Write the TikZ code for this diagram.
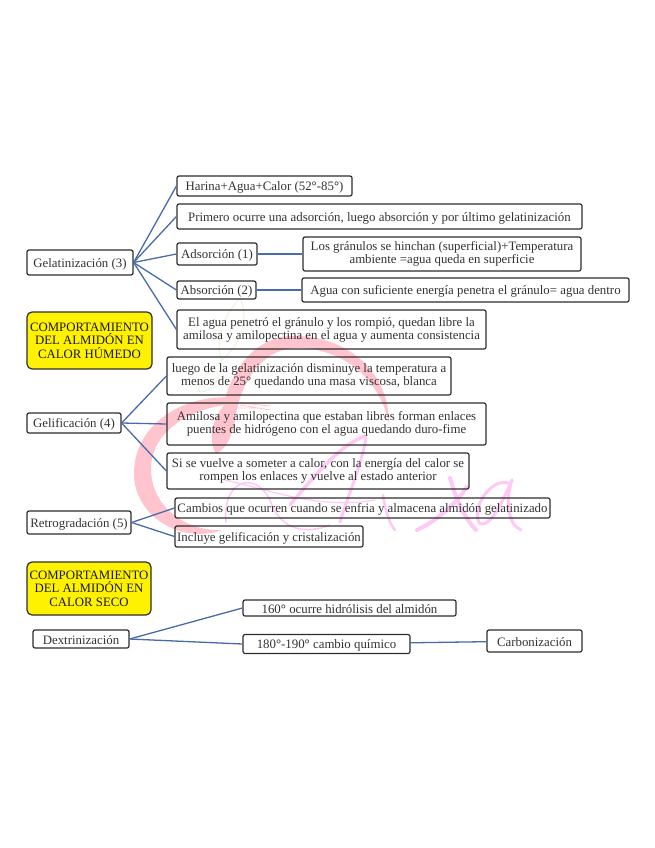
\documentclass[tikz,border=0pt]{standalone}
\usepackage{fontspec}
\setmainfont{Liberation Serif}
\definecolor{linea}{RGB}{72,108,170}
\definecolor{borde}{RGB}{45,45,45}
\definecolor{rosa}{RGB}{255,196,206}
\definecolor{lila}{RGB}{255,200,245}
\definecolor{hoja}{RGB}{232,246,220}
\newcommand{\grado}{\textbf{°}}
\tikzset{
  caja/.style={draw=borde,line width=1.2pt,rounded corners=2pt,inner sep=0pt,align=center,
    text=black!80,font=\fontsize{12.85}{13}\selectfont,execute at begin node={\rule{0pt}{12pt}}},
  cajados/.style={caja,execute at begin node={\vspace*{3pt}}},
  cajaseca/.style={caja,execute at begin node={}},
  titulo/.style={cajaseca,fill=yellow,rounded corners=5pt,text=black!90,font=\fontsize{12.8}{13.4}\selectfont},
  rama/.style={draw=linea,line width=1.3pt},
  firma/.style={draw=lila,line cap=round,line join=round}
}
\begin{document}
\begin{tikzpicture}[x=1pt,y=-1pt]
        \useasboundingbox (0,0) rectangle (655,848);
        \fill[white] (0,0) rectangle (655,848);

        % Watermark: leaf
        \draw[hoja,line width=1pt] (240,298) .. controls (220,320) and (215,345) .. (222,360)
            .. controls (240,345) and (250,320) .. (240,298);
        \draw[hoja,line width=1pt] (222,360) .. controls (205,375) and (195,385) .. (200,392)
            .. controls (212,392) and (222,378) .. (222,360);

        % Watermark: big C
        \fill[rosa] (238,398) .. controls (190,392) and (134,420) .. (134,474)
            .. controls (134,515) and (180,545) .. (222,530)
            .. controls (190,532) and (152,510) .. (151,470)
            .. controls (150,430) and (195,405) .. (238,404) -- cycle;
        \fill[rosa] (216,454) .. controls (208,440) and (212,420) .. (224,405)
            .. controls (228,380) and (250,335) .. (295,336)
            .. controls (345,336) and (390,370) .. (389,425)
            .. controls (382,385) and (350,350) .. (300,348)
            .. controls (262,346) and (240,385) .. (236,415)
            .. controls (232,440) and (224,450) .. (216,454) -- cycle;
        % Watermark: fork
        \draw[rosa,line width=0.8pt] (232,408) -- (262,408) (270,406) -- (240,403) (270,410) -- (240,405);

        % Watermark: script name
        \draw[firma,line width=1.5pt] (226,522) .. controls (222,480) and (255,470) .. (270,500)
            .. controls (280,530) and (305,535) .. (330,525);
        \draw[firma,line width=3.5pt] (290,505) .. controls (315,475) and (340,445) .. (365,436);
        \draw[firma,line width=3pt] (366,438) .. controls (360,470) and (348,495) .. (340,522);
        \draw[firma,line width=1.2pt] (225,480) .. controls (270,490) and (320,510) .. (375,500);
        \draw[firma,line width=2.5pt] (383,495) .. controls (385,510) and (390,525) .. (395,530);
        \draw[firma,line width=4pt] (417,530) .. controls (435,522) and (455,505) .. (467,487);
        \draw[firma,line width=4pt] (450,478) .. controls (455,495) and (462,515) .. (476,530);
        \draw[firma,line width=3pt] (508,483) .. controls (490,478) and (470,510) .. (480,524)
            .. controls (492,526) and (502,502) .. (512,480);
        \draw[firma,line width=3pt] (512,480) .. controls (505,500) and (508,525) .. (521,530);

        % Nodes of the first part
        \node[caja,minimum width=106pt,minimum height=25pt] (gelatinizacion) at (80,262.5) {Gelatinización (3)};
        \node[caja,minimum width=175pt,minimum height=20pt] (harina) at (264.5,186) {Harina+Agua+Calor (52\grado-85\grado)};
        \node[caja,minimum width=405pt,minimum height=25pt] (primero) at (379.5,216.5) {Primero ocurre una adsorción, luego absorción y por último gelatinización};
        \node[caja,minimum width=80pt,minimum height=22pt] (adsorcion) at (217,254) {Adsorción (1)};
        \node[cajados,minimum width=278pt,minimum height=34pt] (granulos) at (442,254) {Los gránulos se hinchan (superficial)+Temperatura\\ambiente =agua queda en superficie};
        \node[caja,minimum width=79pt,minimum height=18pt] (absorcion) at (216.5,290) {Absorción (2)};
        \node[caja,minimum width=327pt,minimum height=24pt] (dentro) at (465.5,290) {Agua con suficiente energía penetra el gránulo= agua dentro};
        \node[cajados,minimum width=309pt,minimum height=39pt] (rompio) at (331.5,329.5) {El agua penetró el gránulo y los rompió, quedan libre la\\amilosa y amilopectina en el agua y aumenta consistencia};
        \node[titulo,minimum width=125pt,minimum height=57pt] (humedo) at (89.5,340.5) {COMPORTAMIENTO\\DEL ALMIDÓN EN\\CALOR HÚMEDO};

        % Nodes of the second part
        \node[caja,minimum width=94pt,minimum height=20pt] (gelificacion) at (74,423) {Gelificación (4)};
        \node[cajados,minimum width=284pt,minimum height=38pt] (viscosa) at (309,376) {luego de la gelatinización disminuye la temperatura a\\menos de 25\grado{} quedando una masa viscosa, blanca};
        \node[cajados,minimum width=319pt,minimum height=42pt] (puentes) at (326.5,424) {Amilosa y amilopectina que estaban libres forman enlaces\\puentes de hidrógeno con el agua quedando duro-fime};
        \node[cajados,minimum width=302pt,minimum height=36pt] (enlaces) at (318,471) {Si se vuelve a someter a calor, con la energía del calor se\\rompen los enlaces y vuelve al estado anterior};
        \node[caja,minimum width=104pt,minimum height=23pt] (retro) at (79,522.5) {Retrogradación (5)};
        \node[caja,minimum width=375pt,minimum height=20pt] (cambios) at (362.5,508) {Cambios que ocurren cuando se enfria y almacena almidón gelatinizado};
        \node[caja,minimum width=188pt,minimum height=21pt] (incluye) at (269,536.5) {Incluye gelificación y cristalización};

        % Nodes of the third part
        \node[titulo,minimum width=124pt,minimum height=53pt] (seco) at (89,588.5) {COMPORTAMIENTO\\DEL ALMIDÓN EN\\CALOR SECO};
        \node[cajaseca,minimum width=96pt,minimum height=18pt] (dextrina) at (81,639) {Dextrinización};
        \node[cajaseca,minimum width=213pt,minimum height=16pt] (hidrolisis) at (349.5,608) {160\grado{} ocurre hidrólisis del almidón};
        \node[cajaseca,minimum width=167pt,minimum height=19pt] (quimico) at (326.5,644) {180\grado-190\grado{} cambio químico};
        \node[cajaseca,minimum width=95pt,minimum height=22pt] (carbon) at (534.5,641) {Carbonización};

        % Draw the branches
        \foreach \destino in {harina,primero,adsorcion,absorcion,rompio}
            \draw[rama] (gelatinizacion.east) -- (\destino.west);
        \draw[rama] (adsorcion) -- (granulos);
        \draw[rama] (absorcion) -- (dentro);
        \foreach \destino in {viscosa,puentes,enlaces}
            \draw[rama] (gelificacion.east) -- (\destino.west);
        \foreach \destino in {cambios,incluye}
            \draw[rama] (retro.east) -- (\destino.west);
        \foreach \destino in {hidrolisis,quimico}
            \draw[rama] (dextrina.east) -- (\destino.west);
        \draw[rama] (quimico) -- (carbon);
\end{tikzpicture}
\end{document}
